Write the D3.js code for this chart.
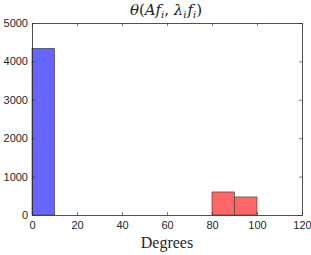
<!DOCTYPE html>
<html><head><meta charset="utf-8">
<script src="https://cdn.jsdelivr.net/npm/d3@7/dist/d3.min.js"></script>
<style>body{margin:0;background:#fff}</style>
</head><body>
<svg id="c" width="311" height="255"></svg>
<script>
const binEdges = [0,10,20,30,40,50,60,70,80,90,100,110,120];
const blueCounts = [4340,0,0,0,0,0,0,0,0,0,0,0];
const redCounts  = [0,0,0,0,0,0,0,0,600,470,0,0];
const xTicks = [0,20,40,60,80,100,120];
const yTicks = [0,1000,2000,3000,4000,5000];

const svg = d3.select("#c");
const m = {l:32, r:302, t:23, b:215};
const x = d3.scaleLinear().domain([0,120]).range([m.l,m.r]);
const y = d3.scaleLinear().domain([0,5000]).range([m.b,m.t]);

const bins = binEdges.slice(0,-1).map((e,i)=>({x0:e,x1:binEdges[i+1],b:blueCounts[i],r:redCounts[i]}));

svg.append("g").selectAll("rect").data(bins).join("rect")
  .attr("x",d=>x(d.x0)).attr("width",d=>x(d.x1)-x(d.x0))
  .attr("y",d=>y(d.b)).attr("height",d=>y(0)-y(d.b))
  .attr("fill","#6666ff").attr("stroke","#333").attr("stroke-width",0.6);
svg.append("g").selectAll("rect").data(bins).join("rect")
  .attr("x",d=>x(d.x0)).attr("width",d=>x(d.x1)-x(d.x0))
  .attr("y",d=>y(d.r)).attr("height",d=>y(0)-y(d.r))
  .attr("fill","#ff6666").attr("stroke","#333").attr("stroke-width",0.6);

const font = "Liberation Sans, Arial, sans-serif";
const gx = svg.append("g").attr("transform",`translate(0,${m.b})`)
  .call(d3.axisBottom(x).tickValues(xTicks).tickSizeInner(-3).tickSizeOuter(0).tickPadding(6));
const gy = svg.append("g").attr("transform",`translate(${m.l},0)`)
  .call(d3.axisLeft(y).tickValues(yTicks).tickFormat(d3.format("d")).tickSizeInner(-3).tickSizeOuter(0).tickPadding(4));
const gx2 = svg.append("g").attr("transform",`translate(0,${m.t})`)
  .call(d3.axisTop(x).tickValues(xTicks).tickSizeInner(-3).tickSizeOuter(0).tickFormat(""));
const gy2 = svg.append("g").attr("transform",`translate(${m.r},0)`)
  .call(d3.axisRight(y).tickValues(yTicks).tickSizeInner(-3).tickSizeOuter(0).tickFormat(""));
[gx,gy,gx2,gy2].forEach(g=>{
  g.selectAll("path").attr("stroke","#262626").attr("stroke-width",0.8);
  g.selectAll("line").attr("stroke","#262626").attr("stroke-width",0.6);
  g.selectAll("text").attr("font-family",font).attr("font-size",11).attr("fill","#262626");
});

svg.append("text").attr("x",166).attr("y",15).attr("text-anchor","middle")
  .attr("font-family","DejaVu Serif, Liberation Serif, serif").attr("font-size",15).attr("font-style","italic")
  .attr("fill","#222")
  .html('θ<tspan font-style="normal">(</tspan>Af<tspan font-size="10" dy="2.5">i</tspan><tspan dy="-2.5" font-style="normal">, </tspan>λ<tspan font-size="10" dy="2.5">i</tspan><tspan dy="-2.5" dx="1">f</tspan><tspan font-size="10" dy="2.5">i</tspan><tspan dy="-2.5" font-style="normal">)</tspan>');

svg.append("text").attr("x",(m.l+m.r)/2).attr("y",248).attr("text-anchor","middle")
  .attr("font-family","Liberation Serif, DejaVu Serif, serif").attr("font-size",16).attr("fill","#262626")
  .text("Degrees");
</script>
</body></html>
